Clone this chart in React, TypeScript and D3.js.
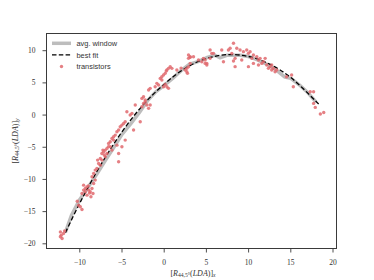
import React from "react";
import * as d3 from "d3";

const W = 374;
const H = 280;

const xTicks = [-10, -5, 0, 5, 10, 15, 20];
const yTicks = [-20, -15, -10, -5, 0, 5, 10];
const legendLabels = ["avg. window", "best fit", "transistors"];

// transistors scatter [x, y]
const transistors: [number, number][] = [
  [-12.3, -18.15], [-12.2, -18.66], [-12.1, -19.18], [-11.93, -18.4], [-12.3, -18.9], [-11.8, -18.0],
  [-10.14, -14.0], [-9.94, -14.25], [-9.74, -14.67], [-10.3, -13.4],
  [-9.55, -10.89], [-9.35, -11.4], [-9.15, -11.15], [-8.95, -11.66], [-8.76, -11.92], [-8.56, -11.4],
  [-8.44, -12.18], [-8.68, -12.7], [-9.35, -11.92], [-9.15, -12.44], [-9.74, -12.18], [-8.36, -10.63],
  [-8.17, -10.1], [-9.55, -11.66], [-9.0, -11.0], [-8.85, -12.1],
  [-8.55, -9.58], [-8.36, -9.07], [-8.17, -8.55], [-7.97, -8.29], [-7.77, -7.52], [-7.89, -7.0],
  [-7.57, -6.74], [-7.38, -5.96], [-7.18, -5.7], [-6.98, -5.44], [-6.78, -5.18], [-7.26, -5.44],
  [-6.59, -4.41], [-6.39, -4.15], [-6.19, -3.63], [-6.0, -3.37], [-5.8, -3.11], [-5.6, -2.59],
  [-5.4, -2.33], [-5.21, -1.81], [-5.01, -1.56], [-4.81, -1.3], [-4.62, -1.04], [-6.39, -4.93],
  [-6.19, -5.44], [-6.78, -5.96], [-6.0, -3.89], [-5.4, -5.96], [-5.6, -4.67], [-5.4, -7.26],
  [-5.01, -4.93], [-4.62, -3.89], [-4.42, 0.52], [-3.63, -2.33], [-3.43, 1.56], [-2.84, -1.04],
  [-2.64, 1.3], [-2.45, 1.81], [-2.05, 1.56], [-1.85, 1.04], [-2.25, 2.07], [-4.03, 0.0],
  [-3.82, 0.26], [-6.98, -6.48], [-7.38, -7.0], [-7.57, -7.78], [-6.6, -4.9], [-7.1, -6.2],
  [-2.64, 2.59], [-2.45, 2.85], [-2.25, 2.33], [-1.85, 3.89], [-1.66, 4.15], [-1.66, 1.56],
  [-1.07, 4.41], [-0.87, 4.93], [-0.67, 4.67], [-0.47, 5.7], [-0.28, 5.44], [-0.08, 6.22],
  [0.12, 6.48], [0.24, 6.84], [0.32, 7.0], [0.51, 7.26], [0.71, 7.52], [0.91, 7.26],
  [-0.08, 4.41], [0.32, 4.41], [0.51, 4.15], [0.12, 4.77], [-0.28, 5.96], [1.5, 7.0], [2.0, 7.3],
  [2.68, 7.26], [2.88, 7.52], [3.08, 8.03], [2.68, 6.74], [2.88, 8.81], [3.08, 9.07], [3.47, 9.07],
  [4.06, 8.55], [4.46, 8.29], [4.65, 8.81], [5.05, 8.03], [4.85, 8.55], [5.44, 8.81],
  [2.88, 9.33], [3.08, 8.97], [2.76, 6.48], [2.49, 7.0], [4.85, 8.03], [5.05, 7.78],
  [5.44, 10.11], [5.64, 9.59], [5.84, 9.59], [6.82, 10.11], [7.02, 8.29], [7.61, 10.11],
  [7.81, 10.37], [8.21, 11.15], [8.01, 9.59], [8.4, 8.81], [8.21, 8.4], [8.6, 10.37],
  [8.99, 10.11], [9.39, 9.85], [9.19, 8.55], [8.4, 7.52], [9.78, 10.11], [9.98, 9.59],
  [10.18, 9.85], [10.57, 9.33], [10.38, 8.81], [9.98, 7.52], [10.97, 9.07], [11.17, 8.55],
  [11.36, 8.81], [11.56, 8.03], [11.76, 8.29], [11.96, 8.81], [12.15, 7.78], [12.35, 7.26],
  [12.55, 7.52], [12.74, 7.0], [13.14, 6.74], [13.33, 7.0], [11.17, 7.78], [10.57, 8.03],
  [12.74, 7.78], [12.94, 7.26], [14.5, 5.96], [15.1, 6.22], [15.3, 4.41], [17.3, 3.63],
  [17.7, 3.63], [17.7, 1.81], [17.9, 1.19], [18.5, 0.16], [18.9, 0.41]
];

// rolling average window [x, y]
const avgWindow: [number, number][] = [
  [-11.7, -18.2], [-11, -15.6], [-10, -13.1], [-9, -11.2], [-8, -9.2], [-7, -7.1],
  [-6, -5.1], [-5, -3.0], [-4, -1.4], [-3, 0.3], [-2, 2.2], [-1, 3.6], [0, 4.6],
  [1, 5.7], [2, 6.9], [3, 7.9], [4, 8.3], [5, 8.9], [6, 9.3], [6.6, 8.9], [7.5, 9.3],
  [9, 9.3], [10, 9.1], [11, 8.6], [12, 8.0], [13, 7.3], [14.3, 5.9], [15, 5.7],
  [16, 4.7], [17, 3.5], [18, 2.0]
];

// best-fit curve points [x, y]
const bestFit: [number, number][] = [
  [-11.7, -18.26], [-10, -13.67], [-7.5, -7.69], [-5, -2.6], [-2.5, 1.58], [0, 4.8],
  [2.5, 7.28], [5, 8.78], [7.5, 9.39], [10, 9.1], [12.5, 7.91], [15, 5.83], [18.3, 1.71]
];

const margin = { left: 46.5, right: 336.5, top: 33.5, bottom: 248.5 };

const x = d3.scaleLinear().domain([-10, 20]).range([79.8, 333]);
const y = d3.scaleLinear().domain([-20, 10]).range([243.8, 50.7]);

const serif = "'Liberation Serif', 'Times New Roman', serif";
const sans = "'Liberation Sans', Arial, sans-serif";
const axisColor = "#3a3a3a";

function fmt(v: number) {
  return v < 0 ? "\u2212" + Math.abs(v) : String(v);
}

function AxisLabel({ sub }: { sub: string }) {
  return (
    <>
      <tspan>[</tspan>
      <tspan fontStyle="italic">R</tspan>
      <tspan fontSize="5.6" dy="1.8">44,5°</tspan>
      <tspan dy="-1.8">(</tspan>
      <tspan fontStyle="italic">LDA</tspan>
      <tspan>)]</tspan>
      <tspan fontSize="5.6" fontStyle="italic" dy="1.8">{sub}</tspan>
    </>
  );
}

export default function App() {
  const line = d3.line<[number, number]>().x(d => x(d[0])).y(d => y(d[1]));
  const fitLine = d3
    .line<[number, number]>()
    .x(d => x(d[0]))
    .y(d => y(d[1]))
    .curve(d3.curveCatmullRom);

  return (
    <svg
      width={W}
      height={H}
      style={{ position: "absolute", left: 0, top: 0, background: "#fff" }}
    >
      <rect x={0} y={0} width={W} height={H} fill="#fff" />
      <path d={line(avgWindow) || ""} fill="none" stroke="#bdbdbd" strokeWidth={3.5} strokeLinejoin="round" />
      <path d={fitLine(bestFit) || ""} fill="none" stroke="#000" strokeWidth={1.3} strokeDasharray="4.5,2.3" />
      {transistors.map((d, i) => (
        <circle key={i} cx={x(d[0])} cy={y(d[1])} r={1.7} fill="#e06a6e" fillOpacity={0.85} />
      ))}
      {/* frame */}
      <rect
        x={margin.left}
        y={margin.top}
        width={margin.right - margin.left}
        height={margin.bottom - margin.top}
        fill="none"
        stroke={axisColor}
        strokeWidth={1}
      />
      {/* x ticks */}
      {xTicks.map(t => (
        <g key={"x" + t}>
          <line x1={x(t)} x2={x(t)} y1={margin.bottom} y2={margin.bottom + 4} stroke={axisColor} strokeWidth={0.9} />
          <text x={x(t)} y={264.5} textAnchor="middle" fontFamily={serif} fontSize={7.5} fill="#333">
            {fmt(t)}
          </text>
        </g>
      ))}
      {/* y ticks */}
      {yTicks.map(t => (
        <g key={"y" + t}>
          <line x1={margin.left - 4} x2={margin.left} y1={y(t)} y2={y(t)} stroke={axisColor} strokeWidth={0.9} />
          <text x={35.5} y={y(t) + 2.6} textAnchor="end" fontFamily={serif} fontSize={7.5} fill="#333">
            {fmt(t)}
          </text>
        </g>
      ))}
      {/* axis labels */}
      <text x={193} y={275.5} textAnchor="middle" fontFamily={serif} fontSize={8} fill="#333">
        <AxisLabel sub="x" />
      </text>
      <text
        transform={`translate(17.5, ${(margin.top + margin.bottom) / 2}) rotate(-90)`}
        textAnchor="middle"
        fontFamily={serif}
        fontSize={8}
        fill="#333"
      >
        <AxisLabel sub="y" />
      </text>
      {/* legend */}
      <g fontFamily={sans} fontSize={7.4} fill="#333">
        <line x1={52} x2={71} y1={43.3} y2={43.3} stroke="#bdbdbd" strokeWidth={3.5} />
        <text x={76.5} y={46}>{legendLabels[0]}</text>
        <line x1={52} x2={71} y1={54.8} y2={54.8} stroke="#000" strokeWidth={1.3} strokeDasharray="4.5,2.3" />
        <text x={76.5} y={57.5}>{legendLabels[1]}</text>
        <circle cx={61.5} cy={66.5} r={1.7} fill="#e06a6e" fillOpacity={0.85} />
        <text x={76.5} y={69}>{legendLabels[2]}</text>
      </g>
    </svg>
  );
}
